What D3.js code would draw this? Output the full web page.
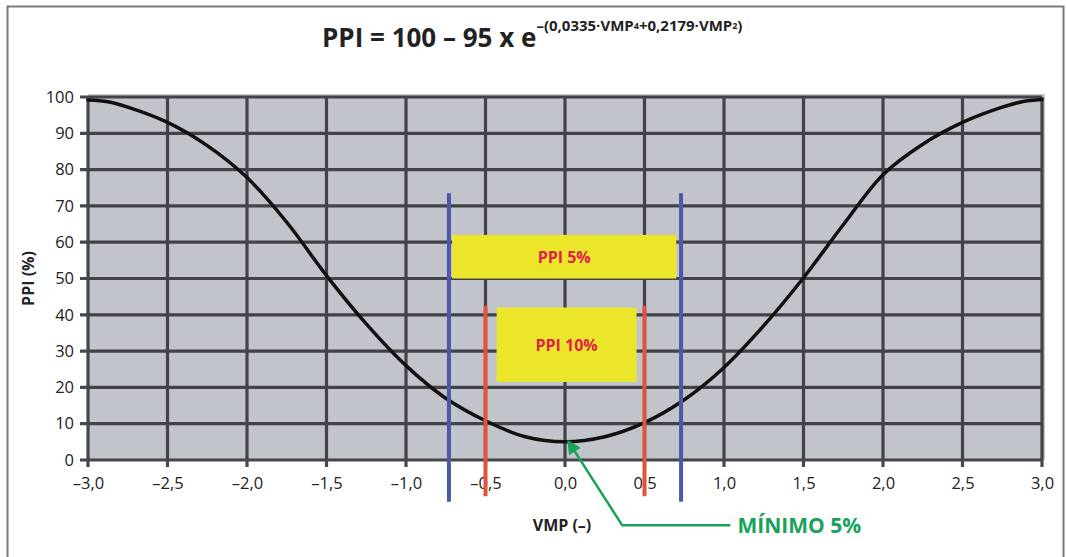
<!DOCTYPE html>
<html>
<head>
<meta charset="utf-8">
<script src="https://cdn.jsdelivr.net/npm/d3@7"></script>
<style>
  body { margin: 0; background: #fff; }
  svg { display: block; font-family: "Open Sans", "Noto Sans", sans-serif; }
</style>
</head>
<body>
<svg id="chart" width="1066" height="557"></svg>
<script>
// values
const vmp = [-3, -2.875, -2.75, -2.5, -2.25, -2, -1.75, -1.5, -1.25, -1, -0.75, -0.5, -0.25, 0,
             0.25, 0.5, 0.75, 1, 1.25, 1.5, 1.75, 2, 2.25, 2.5, 2.75, 2.875, 3]
const ppi = [99.2, 98.7, 97.2, 93, 86.6, 77.8, 65.5, 50.8, 37.5, 26, 17, 10.8, 6.4, 5,
             6.4, 10.3, 16.6, 25.5, 37, 50.2, 64.8, 78.6, 87, 93, 97.2, 98.7, 99.3]

const xTickValues = [-3, -2.5, -2, -1.5, -1, -0.5, 0, 0.5, 1, 1.5, 2, 2.5, 3]
const xTickLabels = ["–3,0", "–2,5", "–2,0", "–1,5", "–1,0", "–0,5", "0,0", "0,5", "1,0", "1,5", "2,0", "2,5", "3,0"]
const yTickValues = [0, 10, 20, 30, 40, 50, 60, 70, 80, 90, 100]

// limit lines: position on VMP and vertical extent in PPI
const limitX = [-0.73, -0.5, 0.5, 0.73]
const limitY0 = [-11.5, -10, -10, -11.5]
const limitY1 = [73.5, 42.5, 42.5, 73.5]
const limitKind = ["5", "10", "10", "5"]

// yellow bands
const bandLabels = ["PPI 5%", "PPI 10%"]
const bandX0 = [-0.71, -0.43]
const bandX1 = [0.70, 0.45]
const bandY0 = [50, 21.5]
const bandY1 = [62, 42]

// arrow to the minimum (VMP, PPI)
const arrowPts = [[1.04, -18], [0.36, -18], [0.02, 5.2]]

const svg = d3.select("#chart")
const x = d3.scaleLinear().domain([-3, 3]).range([88, 1042])
const y = d3.scaleLinear().domain([0, 100]).range([460, 97])

// outer frame
svg.append("rect")
   .attr("x", 7.5).attr("y", 6.5).attr("width", 1056).attr("height", 600)
   .attr("fill", "none").attr("stroke", "#7a7a7a").attr("stroke-width", 2)

// plot background
svg.append("rect")
   .attr("x", x(-3)).attr("y", y(100) - 3)
   .attr("width", x(3) - x(-3) + 3).attr("height", y(0) - y(100) + 3)
   .attr("fill", "#c2c4cb")

// grid
const grid = svg.append("g").attr("stroke", "#35353a").attr("stroke-width", 3.2).attr("opacity", 0.9)
grid.selectAll("line.h")
   .data(yTickValues)
   .enter()
   .append("line")
   .attr("class", "h")
   .attr("x1", x(-3) - 8).attr("x2", x(3))
   .attr("y1", d => y(d)).attr("y2", d => y(d))
grid.selectAll("line.v")
   .data(xTickValues)
   .enter()
   .append("line")
   .attr("class", "v")
   .attr("x1", d => x(d)).attr("x2", d => x(d))
   .attr("y1", y(100)).attr("y2", y(0) + 7)

// axes (labels only)
svg.append("g")
   .attr("transform", "translate(" + (x(-3) - 11) + ",0)")
   .call(d3.axisLeft(y).tickValues(yTickValues).tickSize(0).tickPadding(3))
svg.append("g")
   .attr("transform", "translate(0," + (y(0) + 9) + ")")
   .call(d3.axisBottom(x).tickValues(xTickValues).tickSize(0).tickPadding(8)
      .tickFormat((d, i) => xTickLabels[i]))
svg.selectAll(".domain").remove()
svg.selectAll(".tick text")
   .attr("font-family", "'Open Sans', sans-serif")
   .attr("font-size", 16.5)
   .attr("fill", "#222")

// yellow bands
const bands = svg.append("g")
bands.selectAll("rect")
   .data(bandLabels)
   .enter()
   .append("rect")
   .attr("x", (d, i) => x(bandX0[i]))
   .attr("y", (d, i) => y(bandY1[i]))
   .attr("width", (d, i) => x(bandX1[i]) - x(bandX0[i]))
   .attr("height", (d, i) => y(bandY0[i]) - y(bandY1[i]))
   .attr("fill", "#ebe62a")
bands.selectAll("text")
   .data(bandLabels)
   .enter()
   .append("text")
   .attr("x", (d, i) => (x(bandX0[i]) + x(bandX1[i])) / 2)
   .attr("y", (d, i) => (y(bandY0[i]) + y(bandY1[i])) / 2 + 6)
   .attr("text-anchor", "middle")
   .attr("font-size", 16)
   .attr("font-weight", "bold")
   .attr("fill", "#e3204a")
   .text(d => d)

// curve
const line = d3.line()
   .x((d, i) => x(vmp[i]))
   .y(d => y(d))
   .curve(d3.curveCatmullRom.alpha(0.5))
svg.append("path")
   .datum(ppi)
   .attr("d", line)
   .attr("fill", "none")
   .attr("stroke", "#111")
   .attr("stroke-width", 3.5)
   .attr("stroke-linejoin", "round")
   .attr("stroke-linecap", "round")

// limit lines
svg.append("g").selectAll("line")
   .data(limitX)
   .enter()
   .append("line")
   .attr("x1", d => x(d)).attr("x2", d => x(d))
   .attr("y1", (d, i) => y(limitY0[i]))
   .attr("y2", (d, i) => y(limitY1[i]))
   .attr("stroke", (d, i) => limitKind[i] == "5" ? "#4b58a6" : "#e2533c")
   .attr("stroke-width", 4)

// arrow
svg.append("defs").append("marker")
   .attr("id", "head")
   .attr("viewBox", "0 0 10 10")
   .attr("refX", 9).attr("refY", 5)
   .attr("markerWidth", 6).attr("markerHeight", 5.5)
   .attr("markerUnits", "strokeWidth")
   .attr("orient", "auto")
   .append("path")
   .attr("d", "M0,0L10,5L0,10Z")
   .attr("fill", "#17a35b")
svg.append("path")
   .datum(arrowPts)
   .attr("d", d3.line().x(d => x(d[0])).y(d => y(d[1])))
   .attr("fill", "none")
   .attr("stroke", "#17a35b")
   .attr("stroke-width", 2.5)
   .attr("marker-end", "url(#head)")

// labels
svg.append("text")
   .attr("x", x(0) - 3).attr("y", 531)
   .attr("text-anchor", "middle")
   .attr("font-size", 16).attr("font-weight", "bold").attr("fill", "#222")
   .text("VMP (–)")

svg.append("text")
   .attr("x", x(1.06) + 4).attr("y", 533)
   .attr("font-size", 21).attr("font-weight", "bold").attr("fill", "#17a35b")
   .text("MÍNIMO 5%")

svg.append("text")
   .attr("transform", "translate(34," + y(50) + ") rotate(-90)")
   .attr("text-anchor", "middle")
   .attr("font-size", 16).attr("font-weight", "bold").attr("fill", "#222")
   .text("PPI (%)")

// title with exponent
const title = svg.append("text")
   .attr("x", 322).attr("y", 47)
   .attr("font-weight", "bold").attr("fill", "#222")
title.append("tspan").attr("font-size", 26).text("PPI = 100 – 95 x e")
title.append("tspan").attr("font-size", 15).attr("dy", -16).text("–(0,0335·VMP")
title.append("tspan").attr("font-size", 9).attr("dy", -2).text("4")
title.append("tspan").attr("font-size", 15).attr("dy", 2).text("+0,2179·VMP")
title.append("tspan").attr("font-size", 9).attr("dy", -2).text("2")
title.append("tspan").attr("font-size", 15).attr("dy", 2).text(")")
</script>
</body>
</html>
